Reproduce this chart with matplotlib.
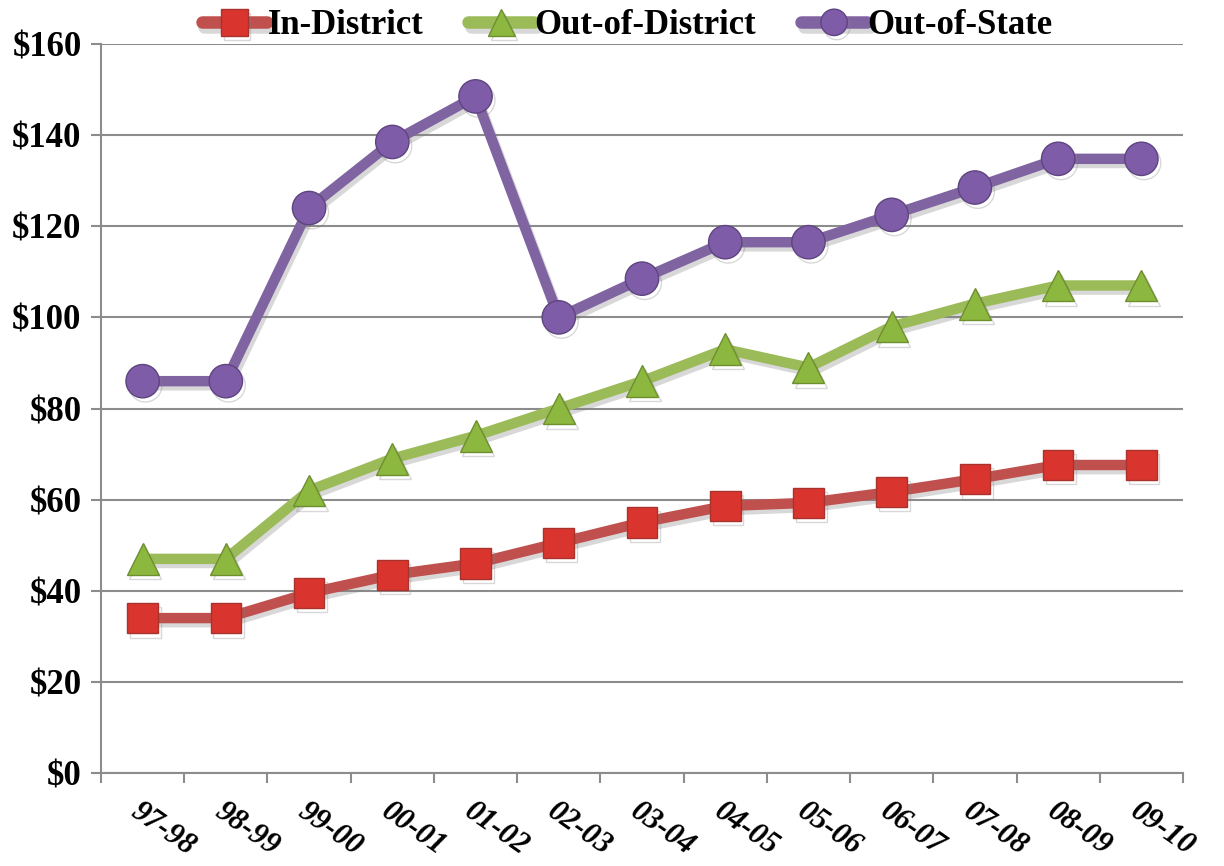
import matplotlib
matplotlib.use("Agg")
import matplotlib.pyplot as plt
import matplotlib.patheffects as pe
from matplotlib.ticker import FixedLocator, FuncFormatter

years = ["97-98", "98-99", "99-00", "00-01", "01-02", "02-03", "03-04",
         "04-05", "05-06", "06-07", "07-08", "08-09", "09-10"]
in_district = [34, 34, 39.5, 43.5, 46, 50.5, 55, 58.6, 59.3, 61.7, 64.5, 67.6, 67.6]
out_of_district = [47, 47, 62, 69, 74, 80, 86, 93, 89, 98, 103, 107, 107]
out_of_state = [86, 86, 124, 138.5, 148.5, 100, 108.5, 116.5, 116.5, 122.5, 128.5, 134.8, 134.8]

plt.rcParams['font.family'] = ['Liberation Serif', 'DejaVu Serif']

fig = plt.figure(figsize=(12.24, 8.66), dpi=100)
ax = fig.add_axes([101/1224, 1-773/866, (1183-101)/1224, (773-44)/866])

x = list(range(len(years)))
shadow = [pe.SimpleLineShadow(offset=(2, -3), alpha=0.3, shadow_color='gray'), pe.Normal()]

series = [
    (in_district, "In-District", '#C0504D', 's', '#D9352E', '#A8322C', 22),
    (out_of_district, "Out-of-District", '#9BBB59', '^', '#8DB83F', '#6E8F2E', 23),
    (out_of_state, "Out-of-State", '#8064A2', 'o', '#7F5CA8', '#5E4480', 24),
]
for vals, lab, col, mk, mfc, mec, ms in series:
    ax.plot(x, vals, color=col, lw=7.5, marker=mk, markersize=ms,
            markerfacecolor=mfc, markeredgecolor=mec, markeredgewidth=1.0,
            label=lab, path_effects=shadow, zorder=3, solid_capstyle='round')

ax.set_xlim(-0.5, len(years) - 0.5)
ax.set_ylim(0, 160)
ax.set_yticks(range(0, 161, 20))
ax.yaxis.set_major_formatter(FuncFormatter(lambda v, p: f"${int(v)}"))
ax.grid(axis='y', color='#8c8c8c', lw=1.5)
ax.set_axisbelow(True)

ax.set_xticks(x)
ax.set_xticklabels(years, rotation=-35, ha='left', va='top',
                   fontsize=22, fontweight='bold', fontstyle='italic',
                   rotation_mode='anchor')
ax.tick_params(axis='x', which='major', length=0, pad=17)
ax.xaxis.set_minor_locator(FixedLocator([i - 0.5 for i in range(len(years) + 1)]))
ax.tick_params(axis='x', which='minor', length=7, width=1.5, color='#8c8c8c')
ax.tick_params(axis='y', length=7, width=1.5, color='#8c8c8c', labelsize=25, pad=7)
for lbl in ax.get_yticklabels():
    lbl.set_fontweight('bold')

for s in ['top', 'right']:
    ax.spines[s].set_visible(False)
for s in ['left', 'bottom']:
    ax.spines[s].set_color('#8c8c8c')
    ax.spines[s].set_linewidth(1.5)

leg = ax.legend(loc='center', bbox_to_anchor=(0.486, 1 + 18/729), ncol=3, frameon=False,
                prop={'weight': 'bold', 'size': 25}, handlelength=1.9,
                handletextpad=0.0, columnspacing=1.3, borderaxespad=0, borderpad=0)
for h in leg.legend_handles:
    h.set_markersize(19)
    h.set_linewidth(9)

fig.savefig("out.png", dpi=100)
